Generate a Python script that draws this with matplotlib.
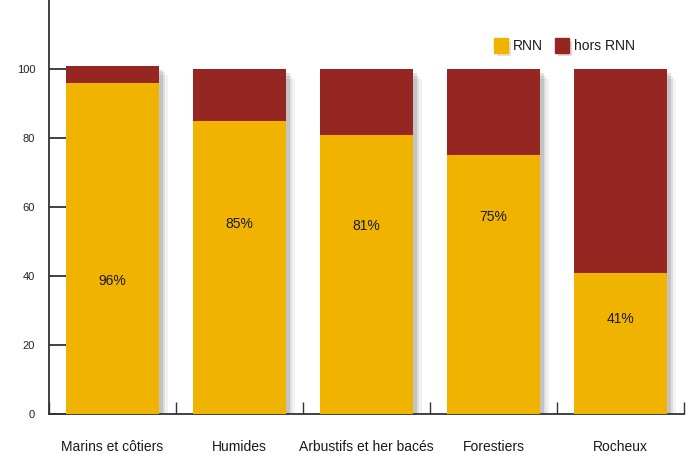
import matplotlib
matplotlib.use("Agg")
import matplotlib.pyplot as plt
import matplotlib.patheffects as pe

categories = ["Marins et côtiers", "Humides", "Arbustifs et her bacés", "Forestiers", "Rocheux"]
rnn = [96, 85, 81, 75, 41]
hors_rnn = [5, 15, 19, 25, 59]
pct_labels = ["96%", "85%", "81%", "75%", "41%"]
label_y = [38.5, 55, 54.5, 57, 27.5]
yticks = [0, 20, 40, 60, 80, 100]

YELLOW = "#F0B400"
RED = "#962622"

plt.rcParams['font.family'] = ['Liberation Sans', 'DejaVu Sans']

fig = plt.figure(figsize=(6.93, 4.55), dpi=100)
ax = fig.add_axes([49/693, 1 - 414/455, (684 - 49)/693, 414/455])

shadow = [pe.SimplePatchShadow(offset=(3, -3), shadow_rgbFace="#000000", alpha=0.12),
          pe.SimplePatchShadow(offset=(5, -5), shadow_rgbFace="#000000", alpha=0.08),
          pe.SimplePatchShadow(offset=(7, -7), shadow_rgbFace="#000000", alpha=0.05),
          pe.Normal()]

x = list(range(len(categories)))
w = 0.725
tot = [a + b for a, b in zip(rnn, hors_rnn)]
bg = ax.bar(x, tot, width=w, color=RED, zorder=2)
for p in bg:
    p.set_path_effects(shadow)
ax.bar(x, rnn, width=w, color=YELLOW, zorder=3)

for xi, yi, t in zip(x, label_y, pct_labels):
    ax.text(xi, yi, t, ha="center", va="center", fontsize=10, color="#1a1a1a", zorder=5)

ax.set_xlim(-0.5, len(categories) - 0.5)
ax.set_ylim(0, 120)

for s in ["top", "right"]:
    ax.spines[s].set_visible(False)
for s in ["left", "bottom"]:
    ax.spines[s].set_color("#333333")
    ax.spines[s].set_linewidth(1.3)

ax.set_yticks(yticks)
ax.set_yticklabels([str(v) for v in yticks], fontsize=8, color="#222222")
ax.tick_params(axis="y", direction="in", length=12, width=1.3, color="#333333", pad=10)

ax.set_xticks([i - 0.5 for i in range(len(categories) + 1)])
ax.set_xticklabels([])
ax.tick_params(axis="x", direction="in", length=9, width=1.0, color="#333333")
for xi, c in zip(x, categories):
    ax.text(xi, -0.08, c, transform=ax.get_xaxis_transform(), ha="center", va="center",
            fontsize=10, color="#1a1a1a")

# legend
lx = [494 / 693, 555 / 693]
labels = ["RNN", "hors RNN"]
cols = [YELLOW, RED]
for px, lab, col in zip(lx, labels, cols):
    fig.patches.append(plt.Rectangle((px, 1 - 53 / 455), 14 / 693, 15 / 455,
                                     transform=fig.transFigure, color=col,
                                     path_effects=[pe.SimplePatchShadow(offset=(2, -2), alpha=0.15), pe.Normal()]))
    fig.text(px + 19 / 693, 1 - 46 / 455, lab, ha="left", va="center", fontsize=10, color="#1a1a1a")

fig.savefig("out.png", dpi=100)
